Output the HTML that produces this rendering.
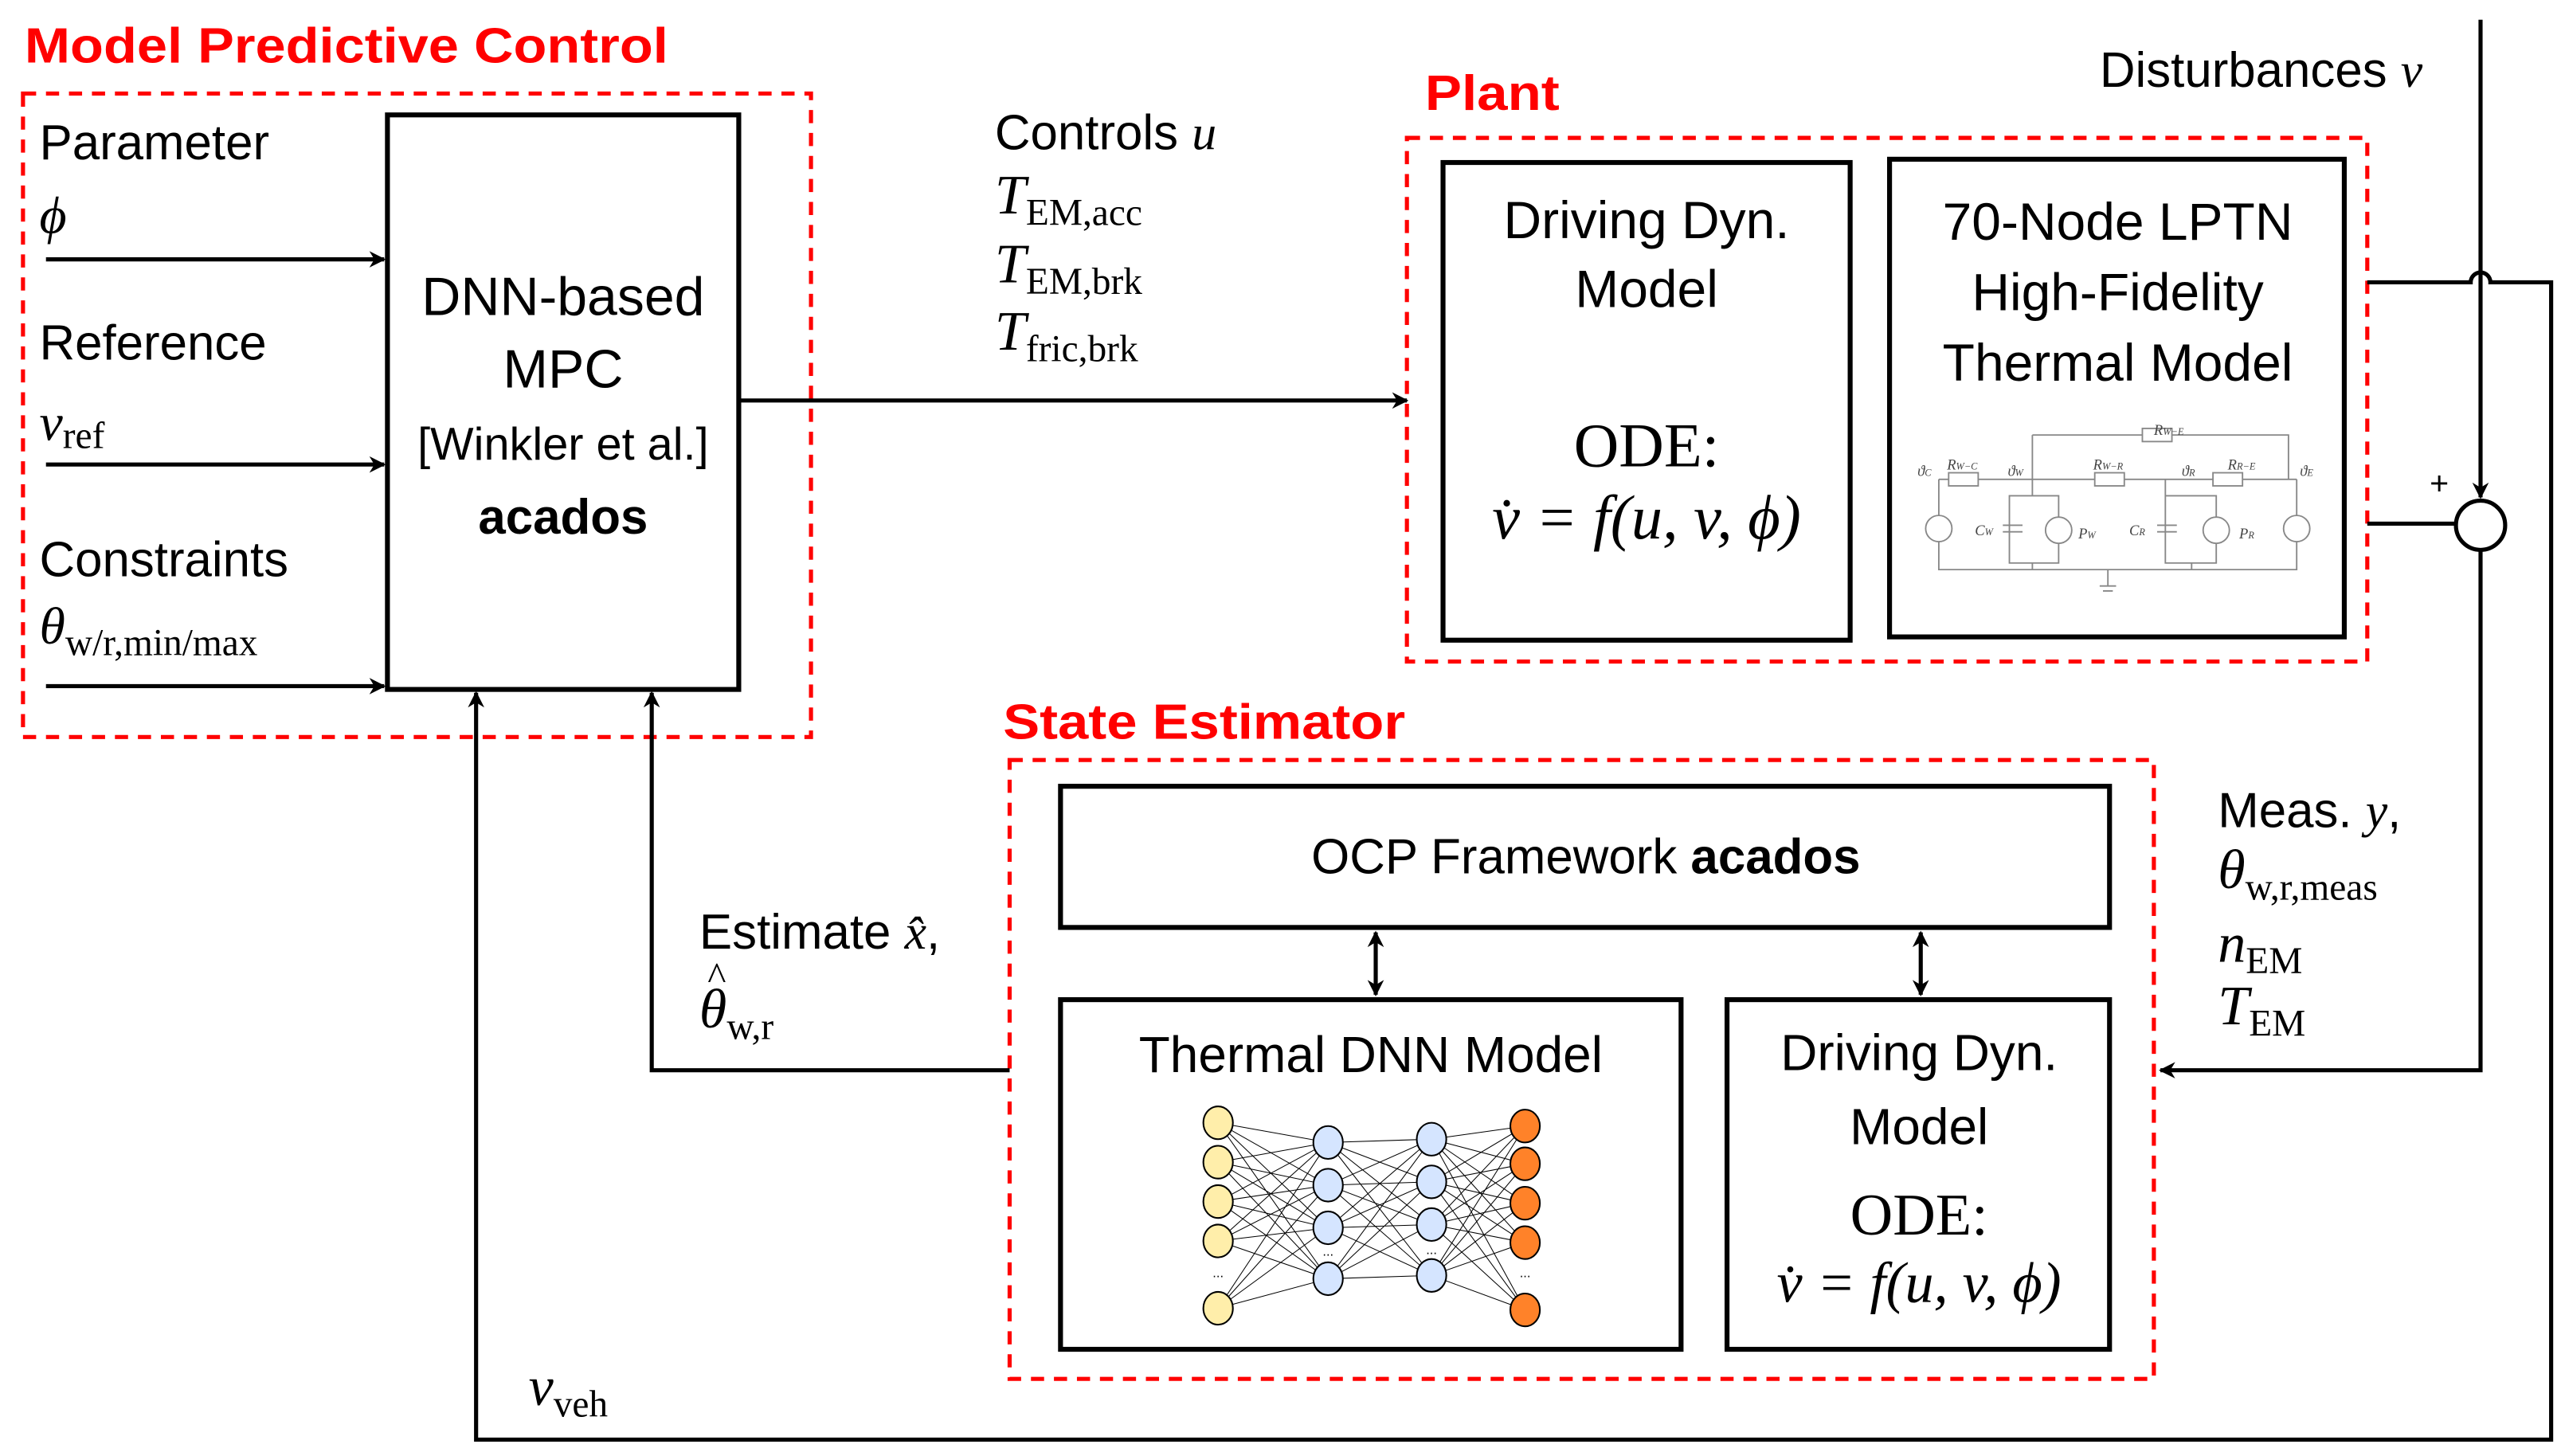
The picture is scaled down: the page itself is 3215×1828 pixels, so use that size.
<!DOCTYPE html>
<html><head><meta charset="utf-8"><style>
html,body{margin:0;padding:0;background:#fff}
svg{display:block}
.s{font-family:"Liberation Sans",sans-serif}
.m{font-family:"Liberation Serif",serif;font-style:italic}
.r{font-family:"Liberation Serif",serif}
</style></head><body>
<svg width="3215" height="1828" viewBox="0 0 1560 887" xmlns="http://www.w3.org/2000/svg">
<defs>
<marker id="a" markerWidth="10" markerHeight="10" refX="9" refY="5" orient="auto" markerUnits="userSpaceOnUse">
<path d="M0,0 L10,5 L0,10 L3,5 Z" fill="#000"/></marker>
<marker id="a2" markerWidth="10" markerHeight="10" refX="9" refY="5" orient="auto-start-reverse" markerUnits="userSpaceOnUse">
<path d="M0,0 L10,5 L0,10 L3,5 Z" fill="#000"/></marker>
</defs>

<g fill="none" stroke="#f00" stroke-width="2.5" stroke-dasharray="8,6">
<rect x="14" y="57" width="480" height="392"/>
<rect x="857" y="84" width="585" height="319"/>
<rect x="615" y="463" width="697" height="377"/>
</g>
<g class="s" fill="#f00" font-weight="bold" font-size="30">
<text x="15" y="38" textLength="392" lengthAdjust="spacingAndGlyphs">Model Predictive Control</text>
<text x="868" y="67" textLength="82" lengthAdjust="spacingAndGlyphs">Plant</text>
<text x="611" y="450" textLength="245" lengthAdjust="spacingAndGlyphs">State Estimator</text>
</g>

<g fill="none" stroke="#000" stroke-width="3">
<rect x="236" y="70" width="214" height="350"/>
<rect x="879" y="99" width="248" height="291"/>
<rect x="1151" y="97" width="277" height="291"/>
<rect x="646" y="479" width="639" height="86"/>
<rect x="646" y="609" width="378" height="213"/>
<rect x="1052" y="609" width="233" height="213"/>
</g>

<g fill="none" stroke="#000" stroke-width="2.5">
<line x1="28" y1="158" x2="234" y2="158" marker-end="url(#a)"/>
<line x1="28" y1="283" x2="234" y2="283" marker-end="url(#a)"/>
<line x1="28" y1="418" x2="234" y2="418" marker-end="url(#a)"/>
<line x1="450" y1="244" x2="857" y2="244" marker-end="url(#a)"/>
<line x1="1511" y1="12" x2="1511" y2="303" marker-end="url(#a)"/>
<path d="M1442 172 L1505 172 A6 6 0 0 1 1517 172 L1554 172 L1554 877 L290 877 L290 422" marker-end="url(#a)"/>
<line x1="1442" y1="319" x2="1496" y2="319"/>
<circle cx="1511" cy="320" r="15"/>
<path d="M1511 335 L1511 652 L1316 652" marker-end="url(#a)"/>
<path d="M615 652 L397 652 L397 422" marker-end="url(#a)"/>
<line x1="838" y1="568" x2="838" y2="606" marker-start="url(#a2)" marker-end="url(#a2)"/>
<line x1="1170" y1="568" x2="1170" y2="606" marker-start="url(#a2)" marker-end="url(#a2)"/>
</g>
<text x="1480" y="301" class="s" font-size="20">+</text>

<g class="s" font-size="30">
<text x="24" y="97">Parameter</text>
<text x="24" y="219">Reference</text>
<text x="24" y="351">Constraints</text>
</g>
<text x="24" y="142" class="m" font-size="32">ϕ</text>
<text x="24" y="268" class="m" font-size="32">v<tspan class="r" font-style="normal" font-size="23" dy="5">ref</tspan></text>
<text x="24" y="392" class="m" font-size="32">θ<tspan class="r" font-style="normal" font-size="23" dy="7">w/r,min/max</tspan></text>

<g class="s" font-size="33" text-anchor="middle">
<text x="343" y="192">DNN-based</text>
<text x="343" y="236">MPC</text>
<text x="343" y="280" font-size="28">[Winkler et al.]</text>
<text x="343" y="325" font-weight="bold" font-size="30">acados</text>
</g>

<text x="606" y="91" class="s" font-size="30">Controls <tspan class="m">u</tspan></text>
<g class="m" font-size="34">
<text x="606" y="130">T<tspan class="r" font-style="normal" font-size="23" dy="7">EM,acc</tspan></text>
<text x="606" y="172">T<tspan class="r" font-style="normal" font-size="23" dy="7">EM,brk</tspan></text>
<text x="606" y="213">T<tspan class="r" font-style="normal" font-size="23" dy="7">fric,brk</tspan></text>
</g>

<text x="1279" y="53" class="s" font-size="30">Disturbances <tspan class="m">v</tspan></text>

<g class="s" font-size="32" text-anchor="middle">
<text x="1003" y="145">Driving Dyn.</text>
<text x="1003" y="187">Model</text>
<text x="1290" y="146">70-Node LPTN</text>
<text x="1290" y="189">High-Fidelity</text>
<text x="1290" y="232">Thermal Model</text>
</g>
<text x="1003" y="284" class="r" font-size="38" text-anchor="middle">ODE:</text>
<text x="1003" y="328" class="m" font-size="38" text-anchor="middle">v̇ = f(u, v, ϕ)</text>

<g fill="none" stroke="#888" stroke-width="0.9">
<path d="M1181 292 L1181 347 L1399 347 L1399 292 M1181 292 L1238 292 M1202 292 L1238 292 L1399 292 M1238 265 L1394 265 L1394 292 M1238 265 L1238 292"/>
<rect x="1187" y="288" width="18" height="8" fill="#fff"/>
<rect x="1276" y="288" width="18" height="8" fill="#fff"/>
<rect x="1348" y="288" width="18" height="8" fill="#fff"/>
<rect x="1305" y="261" width="18" height="8" fill="#fff"/>
<circle cx="1181" cy="322" r="8" fill="#fff"/>
<circle cx="1399" cy="322" r="8" fill="#fff"/>
<path d="M1238 292 L1238 302 M1224 302 L1254 302 L1254 343 L1224 343 Z M1238 343 L1238 347"/>
<circle cx="1254" cy="323" r="8" fill="#fff"/>
<path d="M1319 292 L1319 302 M1319 302 L1350 302 L1350 343 L1319 343 Z M1335 343 L1335 347"/>
<circle cx="1350" cy="323" r="8" fill="#fff"/>
<path d="M1284 347 L1284 357 M1279 357 L1289 357 M1281 360 L1287 360"/>
<path d="M1220 320 L1232 320 M1220 324 L1232 324 M1314 320 L1326 320 M1314 324 L1326 324"/>
</g>
<g class="m" font-size="9" fill="#444">
<text x="1168" y="290">ϑ<tspan font-size="6">C</tspan></text>
<text x="1186" y="286">R<tspan font-size="6">W−C</tspan></text>
<text x="1223" y="290">ϑ<tspan font-size="6">W</tspan></text>
<text x="1275" y="286">R<tspan font-size="6">W−R</tspan></text>
<text x="1329" y="290">ϑ<tspan font-size="6">R</tspan></text>
<text x="1357" y="286">R<tspan font-size="6">R−E</tspan></text>
<text x="1401" y="290">ϑ<tspan font-size="6">E</tspan></text>
<text x="1312" y="265">R<tspan font-size="6">W−E</tspan></text>
<text x="1203" y="326">C<tspan font-size="6">W</tspan></text>
<text x="1297" y="326">C<tspan font-size="6">R</tspan></text>
<text x="1266" y="328">P<tspan font-size="6">W</tspan></text>
<text x="1364" y="328">P<tspan font-size="6">R</tspan></text>
</g>

<text x="966" y="532" class="s" font-size="30" text-anchor="middle">OCP Framework <tspan font-weight="bold">acados</tspan></text>
<text x="835" y="653" class="s" font-size="31" text-anchor="middle">Thermal DNN Model</text>
<g class="s" font-size="31" text-anchor="middle">
<text x="1169" y="652">Driving Dyn.</text>
<text x="1169" y="697">Model</text>
</g>
<text x="1169" y="752" class="r" font-size="36" text-anchor="middle">ODE:</text>
<text x="1169" y="793" class="m" font-size="35" text-anchor="middle">v̇ = f(u, v, ϕ)</text>

<text x="426" y="578" class="s" font-size="30">Estimate <tspan class="m">x̂</tspan>,</text>
<text x="426" y="626" class="m" font-size="34">θ<tspan class="r" font-style="normal" font-size="23" dy="7">w,r</tspan></text>
<text x="431" y="603" class="r" font-size="24">^</text>

<text x="1351" y="504" class="s" font-size="30">Meas. <tspan class="m">y</tspan>,</text>
<g class="m" font-size="34">
<text x="1351" y="541">θ<tspan class="r" font-style="normal" font-size="23" dy="7">w,r,meas</tspan></text>
<text x="1351" y="586">n<tspan class="r" font-style="normal" font-size="23" dy="7">EM</tspan></text>
<text x="1351" y="624">T<tspan class="r" font-style="normal" font-size="23" dy="7">EM</tspan></text>
<text x="322" y="856">v<tspan class="r" font-style="normal" font-size="23" dy="7">veh</tspan></text>
</g>

<g stroke="#000" stroke-width="0.5" fill="none">
<path d="M742 684L809 696M742 684L809 722M742 684L809 748M742 684L809 779M742 708L809 696M742 708L809 722M742 708L809 748M742 708L809 779M742 732L809 696M742 732L809 722M742 732L809 748M742 732L809 779M742 756L809 696M742 756L809 722M742 756L809 748M742 756L809 779M742 797L809 696M742 797L809 722M742 797L809 748M742 797L809 779
M809 696L872 694M809 696L872 720M809 696L872 746M809 696L872 777M809 722L872 694M809 722L872 720M809 722L872 746M809 722L872 777M809 748L872 694M809 748L872 720M809 748L872 746M809 748L872 777M809 779L872 694M809 779L872 720M809 779L872 746M809 779L872 777
M872 694L929 686M872 694L929 709M872 694L929 733M872 694L929 757M872 694L929 798M872 720L929 686M872 720L929 709M872 720L929 733M872 720L929 757M872 720L929 798M872 746L929 686M872 746L929 709M872 746L929 733M872 746L929 757M872 746L929 798M872 777L929 686M872 777L929 709M872 777L929 733M872 777L929 757M872 777L929 798"/>
</g>
<g stroke="#000" stroke-width="1">
<g fill="#ffeeaa">
<ellipse cx="742" cy="684" rx="9" ry="10"/><ellipse cx="742" cy="708" rx="9" ry="10"/><ellipse cx="742" cy="732" rx="9" ry="10"/><ellipse cx="742" cy="756" rx="9" ry="10"/><ellipse cx="742" cy="797" rx="9" ry="10"/>
</g>
<g fill="#d5e5ff">
<ellipse cx="809" cy="696" rx="9" ry="10"/><ellipse cx="809" cy="722" rx="9" ry="10"/><ellipse cx="809" cy="748" rx="9" ry="10"/><ellipse cx="809" cy="779" rx="9" ry="10"/>
<ellipse cx="872" cy="694" rx="9" ry="10"/><ellipse cx="872" cy="720" rx="9" ry="10"/><ellipse cx="872" cy="746" rx="9" ry="10"/><ellipse cx="872" cy="777" rx="9" ry="10"/>
</g>
<g fill="#ff8229">
<ellipse cx="929" cy="686" rx="9" ry="10"/><ellipse cx="929" cy="709" rx="9" ry="10"/><ellipse cx="929" cy="733" rx="9" ry="10"/><ellipse cx="929" cy="757" rx="9" ry="10"/><ellipse cx="929" cy="798" rx="9" ry="10"/>
</g>
</g>
<g class="s" font-size="8" text-anchor="middle">
<text x="742" y="778">...</text><text x="809" y="765">...</text><text x="872" y="764">...</text><text x="929" y="778">...</text>
</g>
</svg>
</body></html>
